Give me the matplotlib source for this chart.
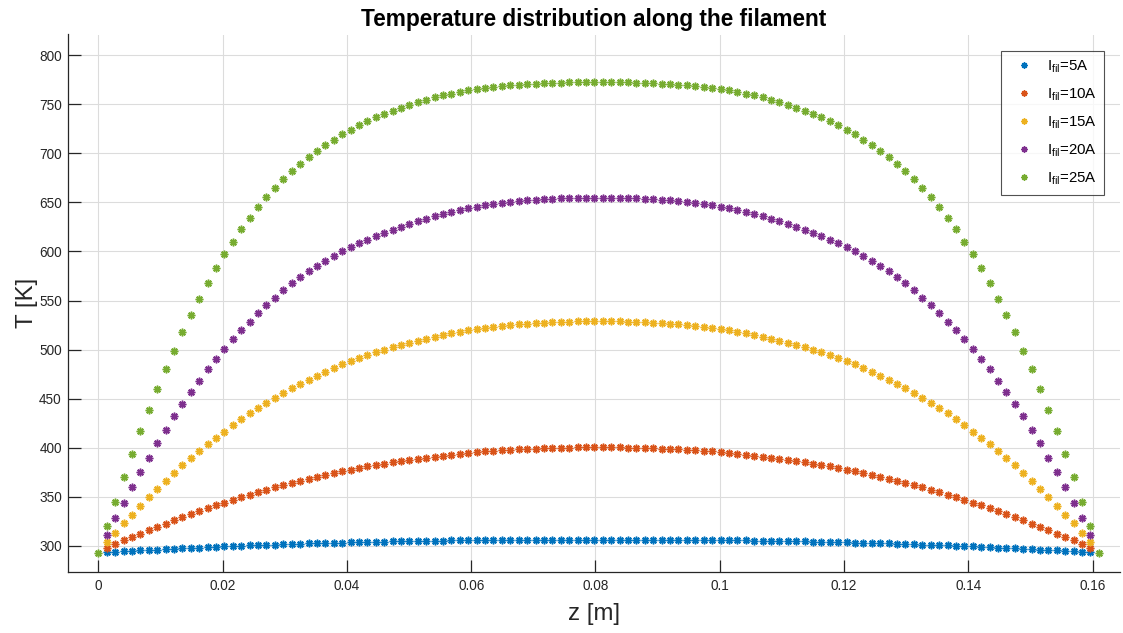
import numpy as np
import matplotlib
matplotlib.use("Agg")
import matplotlib.pyplot as plt
from matplotlib.ticker import FixedLocator, FixedFormatter

plt.rcParams['font.family'] = ['Liberation Sans', 'DejaVu Sans']
plt.rcParams['mathtext.fontset'] = 'custom'
plt.rcParams['mathtext.rm'] = 'Liberation Sans'
plt.rcParams['mathtext.default'] = 'regular'

# ---- data ----
z_length = 0.161
n_nodes = 120
z = np.linspace(0, z_length, n_nodes)

T_25A = [293.0, 320.0, 345.0, 370.0, 394.0, 417.0, 439.0, 460.0, 480.0, 499.0,
         517.5, 535.0, 552.0, 568.0, 583.0, 597.0, 610.0, 622.5, 634.0, 645.0,
         655.0, 664.5, 673.5, 681.5, 689.0, 696.0, 702.5, 708.5, 714.0, 719.3,
         724.2, 728.7, 732.8, 736.6, 740.2, 743.5, 746.6, 749.5, 752.2, 754.7,
         757.0, 759.1, 760.9, 762.5, 764.0, 765.3, 766.5, 767.5, 768.4, 769.2,
         769.9, 770.5, 771.0, 771.4, 771.8, 772.1, 772.3, 772.5, 772.6, 772.7,
         772.7, 772.6, 772.5, 772.3, 772.1, 771.8, 771.4, 771.0, 770.5, 769.9,
         769.2, 768.4, 767.5, 766.5, 765.3, 764.0, 762.5, 760.9, 759.1, 757.0,
         754.7, 752.2, 749.5, 746.6, 743.5, 740.2, 736.6, 732.8, 728.7, 724.2,
         719.3, 714.0, 708.5, 702.5, 696.0, 689.0, 681.5, 673.5, 664.5, 655.0,
         645.0, 634.0, 622.5, 610.0, 597.0, 583.0, 568.0, 552.0, 535.0, 517.5,
         499.0, 480.0, 460.0, 439.0, 417.0, 394.0, 370.0, 345.0, 320.0, 293.0]

T_20A = [311.0, 328.0, 344.0, 360.0, 375.0, 390.0, 404.5, 418.5, 432.0, 445.0,
         457.0, 468.5, 480.0, 490.5, 501.0, 511.0, 520.0, 528.5, 537.0, 545.0,
         553.0, 560.5, 567.5, 574.0, 580.0, 585.5, 590.5, 595.5, 600.0, 604.3,
         608.3, 612.1, 615.7, 619.1, 622.3, 625.3, 628.2, 630.9, 633.4, 635.8,
         638.0, 640.1, 642.0, 643.8, 645.4, 646.9, 648.2, 649.4, 650.5, 651.4,
         652.2, 652.9, 653.4, 653.8, 654.1, 654.3, 654.4, 654.5, 654.5,
         654.5, 654.5, 654.4, 654.3, 654.1, 653.8, 653.4, 652.9, 652.2,
         651.4, 650.5, 649.4, 648.2, 646.9, 645.4, 643.8, 642.0, 640.1, 638.0,
         635.8, 633.4, 630.9, 628.2, 625.3, 622.3, 619.1, 615.7, 612.1, 608.3,
         604.3, 600.0, 595.5, 590.5, 585.5, 580.0, 574.0, 567.5, 560.5, 553.0,
         545.0, 537.0, 528.5, 520.0, 511.0, 501.0, 490.5, 480.0, 468.5, 457.0,
         445.0, 432.0, 418.5, 404.5, 390.0, 375.0, 360.0, 344.0, 328.0, 311.0]

T_15A = [304.0, 313.5, 323.0, 332.0, 341.0, 349.5, 358.0, 366.5, 374.5, 382.0,
         389.5, 396.5, 403.5, 410.0, 416.5, 423.0, 429.0, 435.0, 440.5, 446.0,
         451.0, 456.0, 460.5, 465.0, 469.5, 473.5, 477.5, 481.5, 485.2, 488.5,
         491.6, 494.5, 497.3, 500.0, 502.5, 504.9, 507.2, 509.3, 511.3, 513.2,
         515.0, 516.6, 518.1, 519.5, 520.8, 522.0, 523.1, 524.1, 525.0, 525.8,
         526.5, 527.1, 527.6, 528.0, 528.3, 528.6, 528.8, 528.9, 529.0,
         529.0, 528.9, 528.8, 528.6, 528.3, 528.0, 527.6, 527.1, 526.5,
         525.8, 525.0, 524.1, 523.1, 522.0, 520.8, 519.5, 518.1, 516.6, 515.0,
         513.2, 511.3, 509.3, 507.2, 504.9, 502.5, 500.0, 497.3, 494.5, 491.6,
         488.5, 485.2, 481.5, 477.5, 473.5, 469.5, 465.0, 460.5, 456.0, 451.0,
         446.0, 440.5, 435.0, 429.0, 423.0, 416.5, 410.0, 403.5, 396.5, 389.5,
         382.0, 374.5, 366.5, 358.0, 349.5, 341.0, 332.0, 323.0, 313.5, 304.0]

T_10A = [297.6, 301.7, 305.6, 309.2, 312.7, 316.1, 319.5, 322.8, 326.1, 329.3,
         332.4, 335.4, 338.4, 341.3, 344.1, 346.9, 349.6, 352.2, 354.8, 357.3,
         359.7, 362.0, 364.3, 366.5, 368.6, 370.6, 372.5, 374.4, 376.2, 377.9,
         379.5, 381.0, 382.5, 383.9, 385.3, 386.6, 387.8, 389.0, 390.1, 391.1,
         392.1, 393.0, 393.9, 394.8, 395.6, 396.3, 396.9, 397.4, 397.9, 398.3,
         398.8, 399.2, 399.6, 399.9, 400.1, 400.3, 400.4, 400.5, 400.6,
         400.6, 400.5, 400.4, 400.3, 400.1, 399.9, 399.6, 399.2, 398.8,
         398.3, 397.9, 397.4, 396.9, 396.3, 395.6, 394.8, 393.9, 393.0, 392.1,
         391.1, 390.1, 389.0, 387.8, 386.6, 385.3, 383.9, 382.5, 381.0, 379.5,
         377.9, 376.2, 374.4, 372.5, 370.6, 368.6, 366.5, 364.3, 362.0, 359.7,
         357.3, 354.8, 352.2, 349.6, 346.9, 344.1, 341.3, 338.4, 335.4, 332.4,
         329.3, 326.1, 322.8, 319.5, 316.1, 312.7, 309.2, 305.6, 301.7, 297.6]

T_5A = [293.6, 294.1, 294.6, 295.0, 295.5, 295.9, 296.3, 296.8, 297.2, 297.6,
        298.0, 298.4, 298.7, 299.1, 299.5, 299.8, 300.2, 300.5, 300.8, 301.1,
        301.4, 301.7, 302.0, 302.3, 302.6, 302.8, 303.1, 303.3, 303.5, 303.7,
        303.9, 304.1, 304.3, 304.5, 304.7, 304.8, 305.0, 305.1, 305.3, 305.4,
        305.5, 305.6, 305.8, 305.9, 306.0, 306.1, 306.1, 306.2, 306.3, 306.3,
        306.4, 306.4, 306.5, 306.5, 306.5, 306.6, 306.6, 306.6, 306.6,
        306.6, 306.6, 306.6, 306.6, 306.5, 306.5, 306.5, 306.4, 306.4,
        306.3, 306.3, 306.2, 306.1, 306.1, 306.0, 305.9, 305.8, 305.6, 305.5,
        305.4, 305.3, 305.1, 305.0, 304.8, 304.7, 304.5, 304.3, 304.1, 303.9,
        303.7, 303.5, 303.3, 303.1, 302.8, 302.6, 302.3, 302.0, 301.7, 301.4,
        301.1, 300.8, 300.5, 300.2, 299.8, 299.5, 299.1, 298.7, 298.4, 298.0,
        297.6, 297.2, 296.8, 296.3, 295.9, 295.5, 295.0, 294.6, 294.1, 293.6]

labels = [r'I$_{fil}$=5A', r'I$_{fil}$=10A', r'I$_{fil}$=15A',
          r'I$_{fil}$=20A', r'I$_{fil}$=25A']
colors = ['#0072BD', '#D95319', '#EDB120', '#7E2F8E', '#77AC30']

x_ticks = [0, 0.02, 0.04, 0.06, 0.08, 0.1, 0.12, 0.14, 0.16]
x_tick_labels = ['0', '0.02', '0.04', '0.06', '0.08', '0.1', '0.12', '0.14', '0.16']
y_ticks = [300, 350, 400, 450, 500, 550, 600, 650, 700, 750, 800]

# ---- figure ----
fig = plt.figure(figsize=(11.23, 6.33), dpi=100)
ax = fig.add_axes([68 / 1123, (633 - 572) / 633, (1120 - 68) / 1123, (572 - 34.5) / 633])

z_inner = z[1:-1]
series = [(z_inner, T_5A), (z_inner, T_10A), (z_inner, T_15A), (z_inner, T_20A), (z, T_25A)]
ast = (8, 2, 0)
for (zz, tt), c, lab in zip(series, colors, labels):
    ax.plot(zz, tt, linestyle='none', marker=ast, markersize=5.5,
            markeredgewidth=1.1, color=c, label=lab)

ax.set_xlim(-0.00488, 0.1644)
ax.set_ylim(273.5, 821)
ax.xaxis.set_major_locator(FixedLocator(x_ticks))
ax.xaxis.set_major_formatter(FixedFormatter(x_tick_labels))
ax.yaxis.set_major_locator(FixedLocator(y_ticks))

ax.grid(True, color='#dcdcdc', linewidth=0.8)
ax.set_axisbelow(True)
for s in ['top', 'right']:
    ax.spines[s].set_visible(False)
for s in ['left', 'bottom']:
    ax.spines[s].set_color('#262626')
    ax.spines[s].set_linewidth(0.9)
ax.tick_params(direction='in', length=9, width=0.9, colors='#262626',
               labelsize=9.8, pad=5)
ax.tick_params(axis='y', pad=4.5)

ax.set_title('Temperature distribution along the filament', fontsize=16.3,
             fontweight='bold', color='black', pad=6)
ax.set_xlabel('z [m]', fontsize=17.3, color='#262626', labelpad=7)
ax.set_ylabel('T [K]', fontsize=17.3, color='#262626', labelpad=1)

leg = ax.legend(loc='upper right', bbox_to_anchor=((1104.3 - 68) / 1052, (572 - 50.7) / 537.5),
                borderaxespad=0, fontsize=10.8, frameon=True, fancybox=False,
                edgecolor='#262626', handlelength=2.0, handletextpad=0.55,
                labelspacing=0.78, borderpad=0.5, markerscale=0.8)
leg.get_frame().set_linewidth(0.8)

fig.savefig('out.png', dpi=100)
